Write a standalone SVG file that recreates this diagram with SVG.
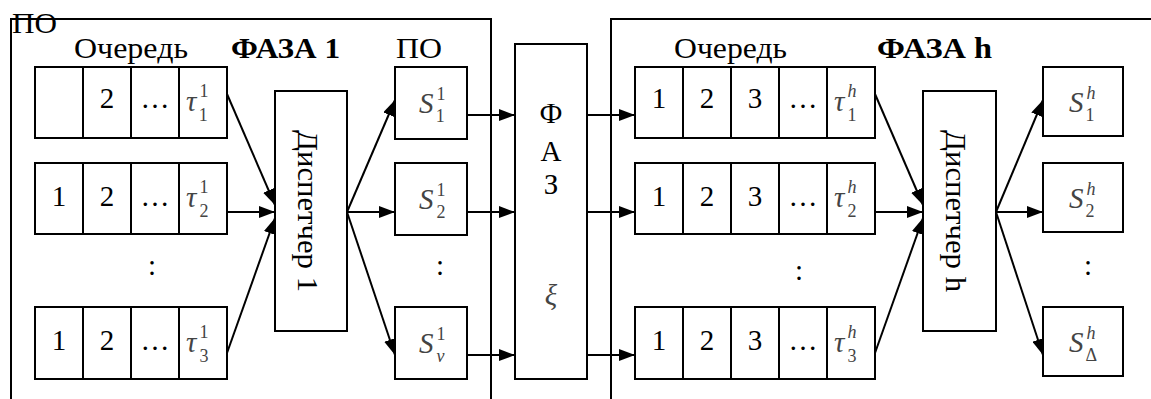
<svg xmlns="http://www.w3.org/2000/svg" width="1151" height="399" viewBox="0 0 1151 399" font-family="Liberation Serif">
<style>
text{fill:#000}
.t{font-size:29px}
.c{text-anchor:middle}
.b{font-weight:bold}
.m{font-style:italic;fill:#444;font-size:29px}
.s{fill:#444;font-size:18px;font-style:normal}
.si{fill:#444;font-size:18px;font-style:italic}
.box{fill:#fff;stroke:#000;stroke-width:2}
.fr{fill:none;stroke:#000;stroke-width:2}
.ar{fill:none;stroke:#000;stroke-width:2;marker-end:url(#ah)}
</style>
<defs>
<marker id="ah" markerWidth="16" markerHeight="12" refX="16" refY="6" orient="auto" markerUnits="userSpaceOnUse"><path d="M0,0 L16,6 L0,12 z" fill="#000"/></marker>
</defs>
<rect width="1151" height="399" fill="#fff"/>
<g id="frames" font-family="Liberation Serif">
<path class="fr" d="M11,399 L11,19 L491,19 L491,399"/>
<path class="fr" d="M611,399 L611,19 L1151,19"/>
<text class="t" x="12" y="33" textLength="45" lengthAdjust="spacingAndGlyphs">ПО</text>
<text class="t" x="74" y="58" textLength="114" lengthAdjust="spacingAndGlyphs">Очередь</text>
<text class="t b" x="231" y="58" textLength="109" lengthAdjust="spacingAndGlyphs">ФАЗА 1</text>
<text class="t" x="396" y="58" textLength="46" lengthAdjust="spacingAndGlyphs">ПО</text>
<text class="t" x="674" y="58" textLength="113" lengthAdjust="spacingAndGlyphs">Очередь</text>
<text class="t b" x="877" y="58" textLength="115" lengthAdjust="spacingAndGlyphs">ФАЗА h</text>
</g>
<g id="queue1-1" font-family="Liberation Serif">
<rect class="box" x="35" y="67" width="48" height="71"/><rect class="box" x="83" y="67" width="48" height="71"/><rect class="box" x="131" y="67" width="48" height="71"/><rect class="box" x="179" y="67" width="48" height="71"/>
<text class="t c" x="107" y="108">2</text><text class="t c" x="155" y="108">…</text>
<text class="m" x="186" y="111">τ<tspan class="s" dx="3" dy="-14">1</tspan><tspan class="s" dx="-9" dy="24">1</tspan></text>
</g>
<g id="queue1-2" font-family="Liberation Serif">
<rect class="box" x="35" y="163" width="48" height="71"/><rect class="box" x="83" y="163" width="48" height="71"/><rect class="box" x="131" y="163" width="48" height="71"/><rect class="box" x="179" y="163" width="48" height="71"/>
<text class="t c" x="59" y="206">1</text><text class="t c" x="107" y="206">2</text><text class="t c" x="155" y="206">…</text>
<text class="m" x="186" y="207">τ<tspan class="s" dx="3" dy="-14">1</tspan><tspan class="s" dx="-9" dy="24">2</tspan></text>
</g>
<text class="t c" x="152" y="275">:</text>
<g id="queue1-3" font-family="Liberation Serif">
<rect class="box" x="35" y="307" width="48" height="72"/><rect class="box" x="83" y="307" width="48" height="72"/><rect class="box" x="131" y="307" width="48" height="72"/><rect class="box" x="179" y="307" width="48" height="72"/>
<text class="t c" x="59" y="350">1</text><text class="t c" x="107" y="350">2</text><text class="t c" x="155" y="350">…</text>
<text class="m" x="186" y="352">τ<tspan class="s" dx="3" dy="-14">1</tspan><tspan class="s" dx="-9" dy="24">3</tspan></text>
</g>
<g id="disp1" font-family="Liberation Serif">
<rect class="box" x="275" y="91" width="72" height="240"/>
<text class="t" transform="translate(298,130) rotate(90)" textLength="162" lengthAdjust="spacingAndGlyphs">Диспетчер 1</text>
</g>
<g id="s1-1" font-family="Liberation Serif"><rect class="box" x="395" y="67" width="72" height="72"/>
<text class="m" x="419" y="113">S<tspan class="s" dx="3" dy="-13">1</tspan><tspan class="s" dx="-9" dy="22">1</tspan></text></g>
<g id="s1-2" font-family="Liberation Serif"><rect class="box" x="395" y="163" width="72" height="72"/>
<text class="m" x="419" y="209">S<tspan class="s" dx="3" dy="-13">1</tspan><tspan class="s" dx="-9" dy="22">2</tspan></text></g>
<text class="t c" x="440" y="275">:</text>
<g id="s1-v" font-family="Liberation Serif"><rect class="box" x="395" y="307" width="72" height="72"/>
<text class="m" x="419" y="353">S<tspan class="s" dx="3" dy="-13">1</tspan><tspan class="si" dx="-9" dy="22">v</tspan></text></g>
<g id="faz" font-family="Liberation Serif">
<rect class="box" x="515" y="44" width="72" height="335"/>
<text class="t c" x="551" y="123">Ф</text>
<text class="t c" x="551" y="161">А</text>
<text class="t c" x="551" y="194">З</text>
<text class="m c" x="551" y="305">ξ</text>
</g>
<g id="queueh-1" font-family="Liberation Serif">
<rect class="box" x="635" y="67" width="48" height="71"/><rect class="box" x="683" y="67" width="48" height="71"/><rect class="box" x="731" y="67" width="48" height="71"/><rect class="box" x="779" y="67" width="48" height="71"/><rect class="box" x="827" y="67" width="48" height="71"/>
<text class="t c" x="659" y="108">1</text><text class="t c" x="707" y="108">2</text><text class="t c" x="755" y="108">3</text><text class="t c" x="803" y="108">…</text>
<text class="m" x="834" y="111">τ<tspan class="si" dx="3" dy="-14">h</tspan><tspan class="s" dx="-9" dy="24">1</tspan></text>
</g>
<g id="queueh-2" font-family="Liberation Serif">
<rect class="box" x="635" y="163" width="48" height="71"/><rect class="box" x="683" y="163" width="48" height="71"/><rect class="box" x="731" y="163" width="48" height="71"/><rect class="box" x="779" y="163" width="48" height="71"/><rect class="box" x="827" y="163" width="48" height="71"/>
<text class="t c" x="659" y="206">1</text><text class="t c" x="707" y="206">2</text><text class="t c" x="755" y="206">3</text><text class="t c" x="803" y="206">…</text>
<text class="m" x="834" y="207">τ<tspan class="si" dx="3" dy="-14">h</tspan><tspan class="s" dx="-9" dy="24">2</tspan></text>
</g>
<text class="t c" x="799" y="280">:</text>
<g id="queueh-3" font-family="Liberation Serif">
<rect class="box" x="635" y="307" width="48" height="72"/><rect class="box" x="683" y="307" width="48" height="72"/><rect class="box" x="731" y="307" width="48" height="72"/><rect class="box" x="779" y="307" width="48" height="72"/><rect class="box" x="827" y="307" width="48" height="72"/>
<text class="t c" x="659" y="350">1</text><text class="t c" x="707" y="350">2</text><text class="t c" x="755" y="350">3</text><text class="t c" x="803" y="350">…</text>
<text class="m" x="834" y="352">τ<tspan class="si" dx="3" dy="-14">h</tspan><tspan class="s" dx="-9" dy="24">3</tspan></text>
</g>
<g id="disph" font-family="Liberation Serif">
<rect class="box" x="923" y="91" width="73" height="240"/>
<text class="t" transform="translate(946,130) rotate(90)" textLength="162" lengthAdjust="spacingAndGlyphs">Диспетчер h</text>
</g>
<g id="sh-1" font-family="Liberation Serif"><rect class="box" x="1043" y="67" width="80" height="69"/>
<text class="m" x="1069" y="112">S<tspan class="si" dx="3" dy="-13">h</tspan><tspan class="s" dx="-10" dy="22">1</tspan></text></g>
<g id="sh-2" font-family="Liberation Serif"><rect class="box" x="1043" y="163" width="80" height="69"/>
<text class="m" x="1069" y="208">S<tspan class="si" dx="3" dy="-13">h</tspan><tspan class="s" dx="-10" dy="22">2</tspan></text></g>
<text class="t c" x="1088" y="275">:</text>
<g id="sh-d" font-family="Liberation Serif"><rect class="box" x="1043" y="307" width="80" height="69"/>
<text class="m" x="1069" y="352">S<tspan class="si" dx="3" dy="-13">h</tspan><tspan class="s" dx="-10" dy="22">Δ</tspan></text></g>
<g id="connectors">
<path class="ar" d="M227,94 L275,205"/>
<path class="ar" d="M227,212 L275,212"/>
<path class="ar" d="M227,353 L275,218"/>
<path class="ar" d="M347,212 L395,100"/>
<path class="ar" d="M347,212 L395,212"/>
<path class="ar" d="M347,212 L395,355"/>
<path class="ar" d="M467,115 L515,115"/>
<path class="ar" d="M467,212 L515,212"/>
<path class="ar" d="M467,355 L515,355"/>
<path class="ar" d="M587,115 L635,115"/>
<path class="ar" d="M587,212 L635,212"/>
<path class="ar" d="M587,355 L635,355"/>
<path class="ar" d="M875,94 L923,205"/>
<path class="ar" d="M875,212 L923,212"/>
<path class="ar" d="M875,353 L923,218"/>
<path class="ar" d="M996,212 L1043,100"/>
<path class="ar" d="M996,212 L1043,212"/>
<path class="ar" d="M996,212 L1043,355"/>
</g>
</svg>
